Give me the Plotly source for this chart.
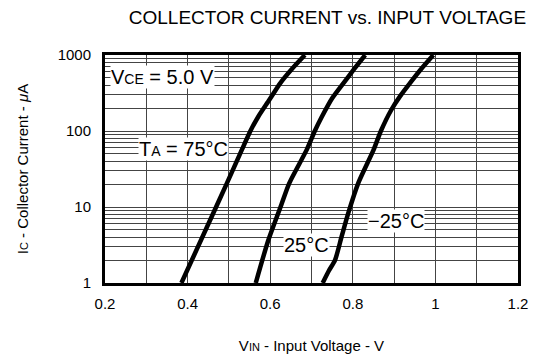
import math
import plotly.graph_objects as go

# Ic vs Vin readings (V, uA)
vin_75 = [0.385, 0.469, 0.495, 0.531, 0.552, 0.571, 0.598, 0.624, 0.652, 0.684]
ic_75 = [1, 10, 20.5, 56, 100, 154, 257, 424, 650, 1000]

vin_25 = [0.565, 0.595, 0.625, 0.646, 0.688, 0.708, 0.725, 0.750, 0.777, 0.803, 0.830]
ic_25 = [1, 3.6, 10, 20.5, 56, 100, 154, 270, 424, 650, 1000]

vin_m25 = [0.727, 0.742, 0.757, 0.773, 0.789, 0.813, 0.850, 0.868, 0.893, 0.915, 0.938, 0.965, 0.995]
ic_m25 = [1, 1.45, 2.0, 4.1, 8.3, 20.5, 56, 100, 189, 290, 424, 650, 1000]

x_ticks = [0.2, 0.4, 0.6, 0.8, 1.0, 1.2]
x_labels = ['0.2', '0.4', '0.6', '0.8', '1', '1.2']
y_ticks = [1, 10, 100, 1000]
y_labels = ['1', '10', '100', '1000']

FONT = 'Liberation Sans, Arial, sans-serif'
GRID = '#444444'

fig = go.Figure()
for xs, ys, name in [(vin_75, ic_75, '75°C'), (vin_25, ic_25, '25°C'), (vin_m25, ic_m25, '-25°C')]:
    fig.add_trace(go.Scatter(
        x=xs, y=ys, mode='lines', name=name,
        line=dict(color='black', width=4.5, shape='spline', smoothing=0.6),
        showlegend=False, hoverinfo='skip',
    ))

# curve / condition labels (x in V, y in uA)
labels = [
    (0.340, 515, 'V<span style="font-size:14px">CE</span> = 5.0 V'),
    (0.391, 58, 'T<span style="font-size:14px">A</span> = 75°C'),
    (0.687, 3.2, '25°C'),
    (0.905, 6.6, '−25°C'),
]
for x, y, txt in labels:
    fig.add_annotation(
        x=x, y=math.log10(y), text=txt, showarrow=False,
        bgcolor='white', borderpad=0,
        font=dict(family=FONT, size=20, color='black'),
    )

fig.update_layout(
    width=535, height=356,
    margin=dict(l=105, r=17, t=55, b=73),
    paper_bgcolor='white', plot_bgcolor='white',
    font=dict(family=FONT, size=15, color='black'),
    title=dict(text='COLLECTOR CURRENT vs. INPUT VOLTAGE', x=0.612, xanchor='center',
               y=0.95, yanchor='middle', font=dict(size=19, family=FONT, color='black')),
)
fig.update_xaxes(
    range=[0.2, 1.2], tickmode='array', tickvals=x_ticks, ticktext=x_labels,
    showgrid=True, gridcolor=GRID, gridwidth=1, ticks='', ticklabelstandoff=5,
    minor=dict(dtick=0.1, showgrid=True, gridcolor=GRID, gridwidth=1),
    showline=True, linecolor='black', linewidth=3, mirror=True, zeroline=False,
    tickfont=dict(size=15), automargin=False,
    title=dict(text='V<span style="font-size:11px">IN</span> - Input Voltage - V',
               font=dict(size=15), standoff=30),
)
fig.update_yaxes(
    type='log', range=[0, 3], tickmode='array', tickvals=y_ticks, ticktext=y_labels,
    showgrid=True, gridcolor=GRID, gridwidth=1, ticks='', ticklabelstandoff=8,
    minor=dict(dtick='D1', showgrid=True, gridcolor=GRID, gridwidth=1),
    showline=True, linecolor='black', linewidth=3, mirror=True, zeroline=False,
    tickfont=dict(size=15), automargin=False,
    title=dict(text='I<span style="font-size:11px">C</span> - Collector Current - <i>μ</i>A',
               font=dict(size=15), standoff=26),
)

# page body has a default margin; drop it so the figure sits at the window origin
fig.write_html('out.html', config={'displayModeBar': False},
               post_script="document.body.style.margin='0';")
